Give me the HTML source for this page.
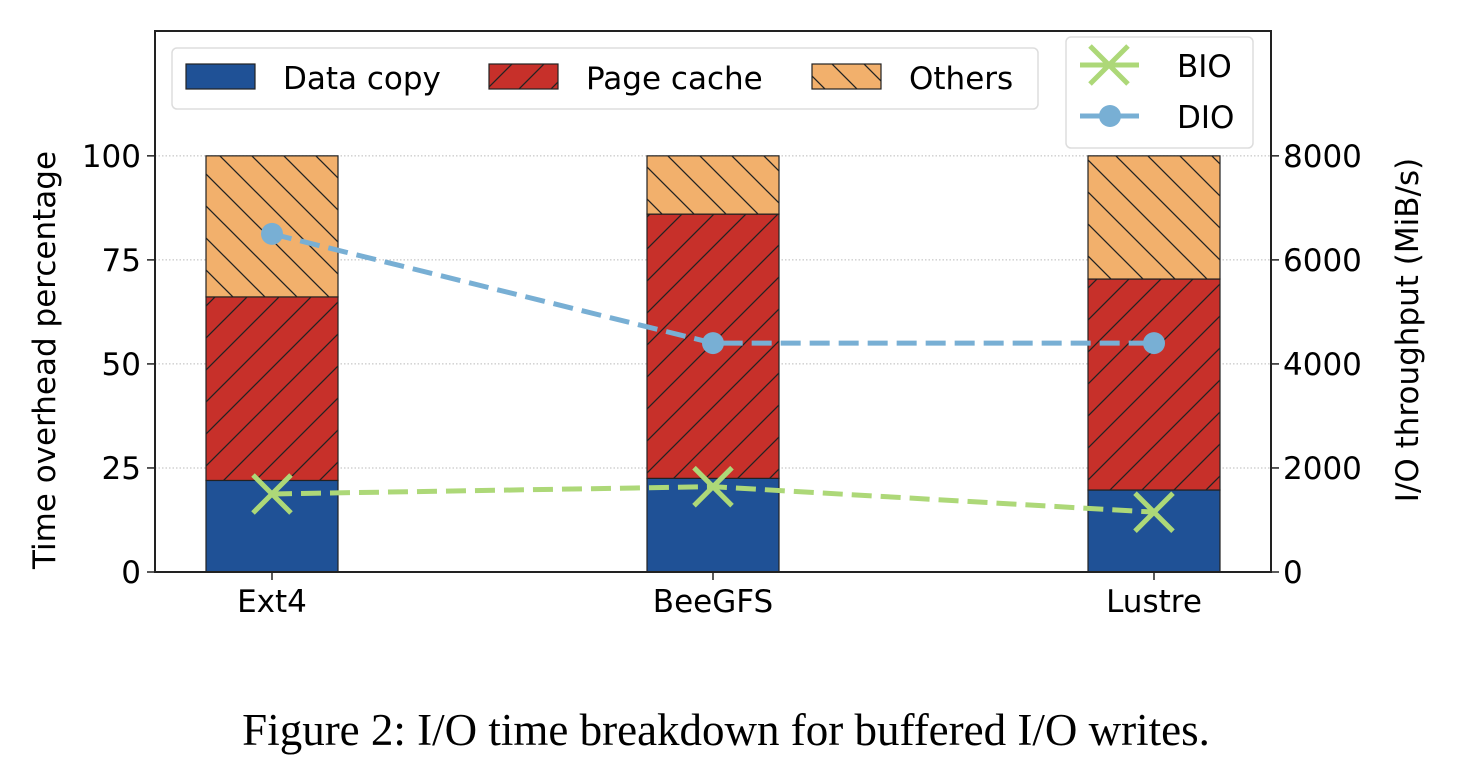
<!DOCTYPE html>
<html><head><meta charset="utf-8"><style>
body{margin:0;background:#fff;width:1464px;height:768px;overflow:hidden}
svg text{font-family:"DejaVu Sans","Liberation Sans",sans-serif}
</style></head><body>
<svg id="chart" width="1464" height="768" xmlns="http://www.w3.org/2000/svg">
<defs>
<pattern id="hatchF" patternUnits="userSpaceOnUse" width="32" height="32"><rect width="32" height="32" fill="#c7302a"/><path d="M-8,8 L8,-8 M0,32 L32,0 M24,40 L40,24" stroke="#222" stroke-width="1.3"/></pattern>
<pattern id="hatchB" patternUnits="userSpaceOnUse" width="32" height="32"><rect width="32" height="32" fill="#f2b06c"/><path d="M-8,24 L8,40 M0,0 L32,32 M24,-8 L40,8" stroke="#222" stroke-width="1.3"/></pattern>
</defs>
<g id="grid"></g><g id="bars"></g><g id="lines"></g><g id="axes"></g>
<text x="726" y="745" text-anchor="middle" style="font-family:'Liberation Serif',serif;font-size:45px">Figure 2: I/O time breakdown for buffered I/O writes.</text>
</svg>
<script>
const categories=["Ext4","BeeGFS","Lustre"];
const dataCopy=[22,22.5,19.7];
const pageCache=[44.1,63.5,50.7];
const others=[33.9,14,29.6];
const bio=[1500,1640,1150];
const dio=[6500,4400,4400];
const leftTicks=[0,25,50,75,100];
const rightTicks=[0,2000,4000,6000,8000];
const NS="http://www.w3.org/2000/svg";
const L=155,R=1271,T=31,B=572;
const yL=v=>B-(B-T)*v/130;
const yR=v=>B-(B-T)*v/10400;
const xC=i=>272+i*441;
const BW=132;
function mk(tag,attrs,parent){const e=document.createElementNS(NS,tag);for(const k in attrs)e.setAttribute(k,attrs[k]);parent.appendChild(e);return e;}
const g=document.getElementById('grid'),bars=document.getElementById('bars'),lines=document.getElementById('lines'),axes=document.getElementById('axes');
leftTicks.forEach(t=>{if(t>0){const l=mk('line',{x1:L,x2:R,y1:yL(t),y2:yL(t),stroke:'#bbb','stroke-width':1,'stroke-dasharray':'1.5,2'},g);

}});
categories.forEach((c,i)=>{let base=0;[[dataCopy,'#1f5196','data-copy'],[pageCache,'url(#hatchF)','page-cache'],[others,'url(#hatchB)','others']].forEach(([arr,f,n])=>{
const y0=yL(base),y1=yL(base+arr[i]);
const r=mk('rect',{x:xC(i)-BW/2,y:y1,width:BW,height:y0-y1,fill:f,stroke:'#222','stroke-width':1.2},bars);


base+=arr[i];});});
function series(arr,color,name,marker){
const p=mk('polyline',{points:arr.map((v,i)=>xC(i)+','+yR(v)).join(' '),fill:'none',stroke:color,'stroke-width':5,'stroke-dasharray':'20,9'},lines);


arr.forEach((v,i)=>{const x=xC(i),y=yR(v);let m;
if(marker==='o'){m=mk('circle',{cx:x,cy:y,r:11,fill:color},lines);}
else{m=mk('path',{d:`M${x-19},${y-19}L${x+19},${y+19}M${x-19},${y+19}L${x+19},${y-19}`,stroke:color,'stroke-width':5},lines);}

});}
series(bio,'#add878','bio','x');
series(dio,'#78afd4','dio','o');
const frame=mk('rect',{x:L,y:T,width:R-L,height:B-T,fill:'none',stroke:'#222','stroke-width':2},axes);


leftTicks.forEach(t=>{const y=yL(t);mk('line',{x1:L-8,x2:L,y1:y,y2:y,stroke:'#222','stroke-width':1.5},axes);
const tx=mk('text',{x:L-14,y:y+11,'text-anchor':'end','font-size':31},axes);tx.textContent=t;

});
rightTicks.forEach(t=>{const y=yR(t);mk('line',{x1:R,x2:R+8,y1:y,y2:y,stroke:'#222','stroke-width':1.5},axes);
const tx=mk('text',{x:R+12,y:y+11,'font-size':31},axes);tx.textContent=t;

});
categories.forEach((c,i)=>{mk('line',{x1:xC(i),x2:xC(i),y1:B,y2:B+8,stroke:'#222','stroke-width':1.5},axes);
const tx=mk('text',{x:xC(i),y:B+40,'text-anchor':'middle','font-size':31},axes);tx.textContent=c;

});
</script>
<svg style="position:absolute;left:0;top:0" width="1464" height="768" xmlns="http://www.w3.org/2000/svg">
<text transform="translate(55,360) rotate(-90)" text-anchor="middle" font-size="31">Time overhead percentage</text>
<text transform="translate(1418,330) rotate(-90)" text-anchor="middle" font-size="31">I/O throughput (MiB/s)</text>
<g>
<rect x="172" y="48" width="866" height="61" rx="5" fill="#fff" fill-opacity="0.85" stroke="#ddd" stroke-width="1.5"/>
<rect x="186" y="64" width="69" height="25" fill="#1f5196" stroke="#222" stroke-width="1.2"/>
<text x="283" y="89" font-size="31">Data copy</text>
<rect x="489" y="64" width="69" height="25" fill="url(#hatchF)" stroke="#222" stroke-width="1.2"/>
<text x="586" y="89" font-size="31">Page cache</text>
<rect x="812" y="64" width="69" height="25" fill="url(#hatchB)" stroke="#222" stroke-width="1.2"/>
<text x="909" y="89" font-size="31">Others</text>
</g>
<g>
<rect x="1066" y="37" width="187" height="111" rx="5" fill="#fff" fill-opacity="0.85" stroke="#ddd" stroke-width="1.5"/>
<path d="M1080,65 H1139 M1090,46 L1128,84 M1090,84 L1128,46" stroke="#add878" stroke-width="5" fill="none"/>
<text x="1177" y="77" font-size="31">BIO</text>
<path d="M1080,116 H1139" stroke="#78afd4" stroke-width="5"/>
<circle cx="1110" cy="116" r="11" fill="#78afd4"/>
<text x="1177" y="128" font-size="31">DIO</text>
</g>
</svg>
</body></html>
